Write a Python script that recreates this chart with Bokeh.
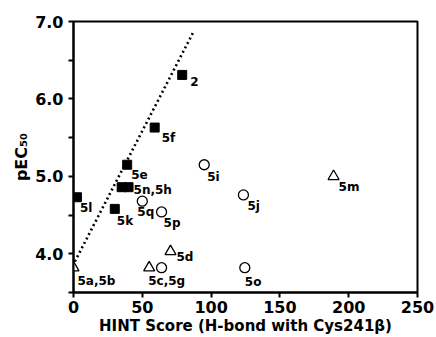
from bokeh.plotting import figure
from bokeh.models import Range1d, FixedTicker, ColumnDataSource
from bokeh.embed import file_html
from bokeh.resources import INLINE
from bokeh.core.properties import value

# --- data ---
sq_x = [79, 59, 39, 35, 40, 2.5, 30]
sq_y = [6.31, 5.63, 5.15, 4.86, 4.86, 4.73, 4.58]
circ_x = [95, 123.5, 124.5, 50, 64, 64]
circ_y = [5.15, 4.76, 3.82, 4.68, 4.54, 3.82]
tri_x = [189, 70.5, 55, 0]
tri_y = [5.0, 4.03, 3.82, 3.82]

label_text = ["2", "5f", "5e", "5n,5h", "5l", "5k", "5q", "5p", "5c,5g",
              "5d", "5a,5b", "5i", "5j", "5o", "5m"]
label_x = [79, 59, 39, 40, 2.5, 30, 50, 64, 55, 70.5, 0, 95, 123.5, 124.5, 189]
label_y = [6.31, 5.63, 5.15, 4.86, 4.73, 4.58, 4.68, 4.54, 3.82, 4.03, 3.82,
           5.15, 4.76, 3.82, 5.0]
label_dx = [8, 7, 4, 5, 3, 2, -5, 2, -1, 6, 4, 3, 4, 0, 5]
label_dy = [7, 10, 10, 3, 11, 12, 11, 11, 13, 6, 13, 12, 11, 14, 11]

trend_x = [1, 87]
trend_y = [3.9, 6.86]

x_ticks = [0, 50, 100, 150, 200, 250]
y_ticks = [3.5, 4.0, 4.5, 5.0, 5.5, 6.0, 6.5, 7.0]
y_tick_labels = ["", "4.0", "", "5.0", "", "6.0", "", "7.0"]

FONT = "DejaVu Sans"

p = figure(width=436, height=337, output_backend="svg", toolbar_location=None,
           x_range=Range1d(0, 250), y_range=Range1d(3.5, 7.0),
           min_border_left=73, min_border_right=19, min_border_top=21,
           min_border_bottom=44)
p.grid.visible = False
p.outline_line_color = "black"
p.outline_line_width = 2
p.background_fill_color = "white"
p.border_fill_color = "white"

for ax in (p.xaxis[0], p.yaxis[0]):
    ax.axis_line_width = 2
    ax.major_tick_line_width = 2
    ax.major_tick_out = 5
    ax.major_tick_in = 0
    ax.minor_tick_line_color = None
    ax.major_label_text_font = FONT
    ax.major_label_text_font_style = "bold"
    ax.major_label_text_font_size = "16px"
    ax.major_label_text_color = "black"
    ax.axis_label_text_font = FONT
    ax.axis_label_text_font_style = "bold"
    ax.axis_label_text_color = "black"

p.xaxis.ticker = FixedTicker(ticks=x_ticks)
p.yaxis.ticker = FixedTicker(ticks=y_ticks)
p.yaxis.major_label_overrides = {t: l for t, l in zip(y_ticks, y_tick_labels)}
p.xaxis.major_label_standoff = 3
p.yaxis.major_label_standoff = 5
p.xaxis.axis_label = "HINT Score (H-bond with Cys241\u03b2)"
p.xaxis.axis_label_text_font_size = "15px"
p.xaxis.axis_label_standoff = 1
p.yaxis.axis_label = "pEC\u2085\u2080"
p.yaxis.axis_label_text_font_size = "16px"
p.yaxis.axis_label_standoff = 1

p.line(trend_x, trend_y, line_color="black", line_width=2.6, line_dash="2 3")

p.scatter(sq_x, sq_y, marker="square", size=9, fill_color="black", line_color="black")
p.scatter(circ_x, circ_y, marker="circle", size=10, fill_color="white",
          line_color="black", line_width=1.3)
p.scatter(tri_x, tri_y, marker="triangle", size=11, fill_color="white",
          line_color="black", line_width=1.3)

src = ColumnDataSource(dict(x=label_x, y=label_y, t=label_text, dx=label_dx, dy=label_dy))
p.text(x="x", y="y", text="t", x_offset="dx", y_offset="dy", source=src,
       text_font=value(FONT), text_font_style="bold", text_font_size="12px",
       text_align="left", text_baseline="middle", text_color="black")

open("out.html", "w").write(file_html(p, INLINE))
